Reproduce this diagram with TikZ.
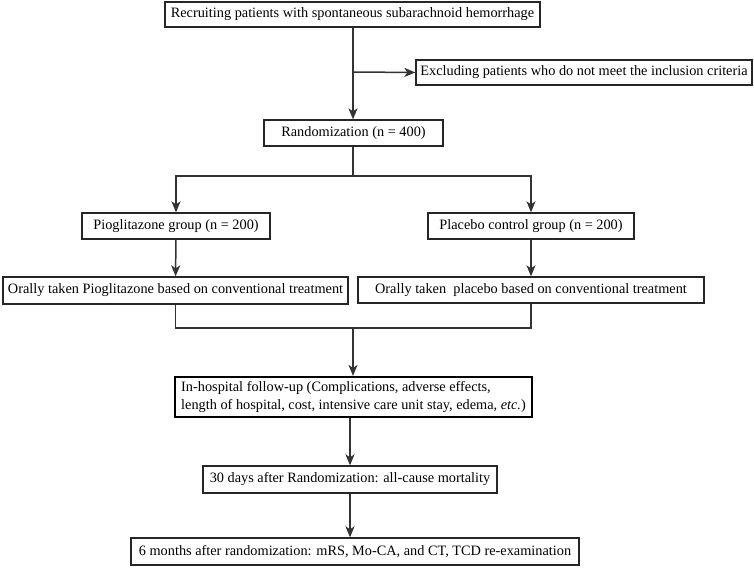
\documentclass[tikz,border=0pt]{standalone}
\usepackage{fontspec}
\setmainfont{Liberation Serif}
\usetikzlibrary{arrows.meta}
\begin{document}
\begin{tikzpicture}[x=1pt,y=1pt,
  box/.style={draw=black!85, line width=1.3pt, inner sep=0pt, font=\fontsize{14.3}{18}\selectfont, text=black},
  thickbox/.style={box, draw=black, line width=2.2pt},
  conn/.style={line width=1.5pt, draw=black!80},
  arr/.style={conn, -{Stealth[length=11pt,width=9pt,inset=3pt]}}]
\useasboundingbox (0,0) rectangle (754,567);
\node[box, minimum width=375, minimum height=25] (A) at (352.5,552.5) {Recruiting patients with spontaneous subarachnoid hemorrhage};
\node[box, minimum width=336, minimum height=25] (E) at (584,494.5) {Excluding patients who do not meet the inclusion criteria};
\node[box, minimum width=179, minimum height=26] (R) at (353.5,434) {Randomization (n = 400)};
\node[box, minimum width=188, minimum height=26] (P1) at (176,341) {Pioglitazone group (n = 200)};
\node[box, minimum width=206, minimum height=26] (P2) at (531,341) {Placebo control group (n = 200)};
\node[box, minimum width=345, minimum height=27] (O1) at (175.5,276.5) {Orally taken Pioglitazone based on conventional treatment};
\node[box, minimum width=346, minimum height=26] (O2) at (531,277) {Orally taken\ \ placebo based on conventional treatment};
\node[thickbox, minimum width=357, minimum height=40, align=left] (H) at (353.5,170) {In-hospital follow-up (Complications, adverse effects,\\length of hospital, cost, intensive care unit stay, edema, \textit{etc.})};
\node[box, minimum width=294, minimum height=27] (D) at (350,87.5) {30 days after Randomization: all-cause mortality};
\node[box, minimum width=448, minimum height=27] (M) at (355,15.5) {6 months after randomization: mRS, Mo-CA, and CT, TCD re-examination};
\coordinate (b1) at (353,495);
\coordinate (s1) at (353,391);
\coordinate (j1) at (353,239);
\draw[arr] (A.south -| b1) -- (R.north -| b1);
\draw[arr] (b1) -- (E.west);
\draw[conn] (R.south -| s1) -- (s1);
\draw[arr] (s1) -| (P1.north);
\draw[arr] (s1) -| (P2.north);
\draw[arr] (P1) -- (O1);
\draw[arr] (P2) -- (O2);
\draw[conn] (O1.south) |- (j1) -| (O2.south);
\draw[arr] (j1) -- (H.north -| j1);
\draw[arr] (H.south -| D.north) -- (D.north);
\draw[arr] (D.south) -- (D.south |- M.north);
\end{tikzpicture}
\end{document}
